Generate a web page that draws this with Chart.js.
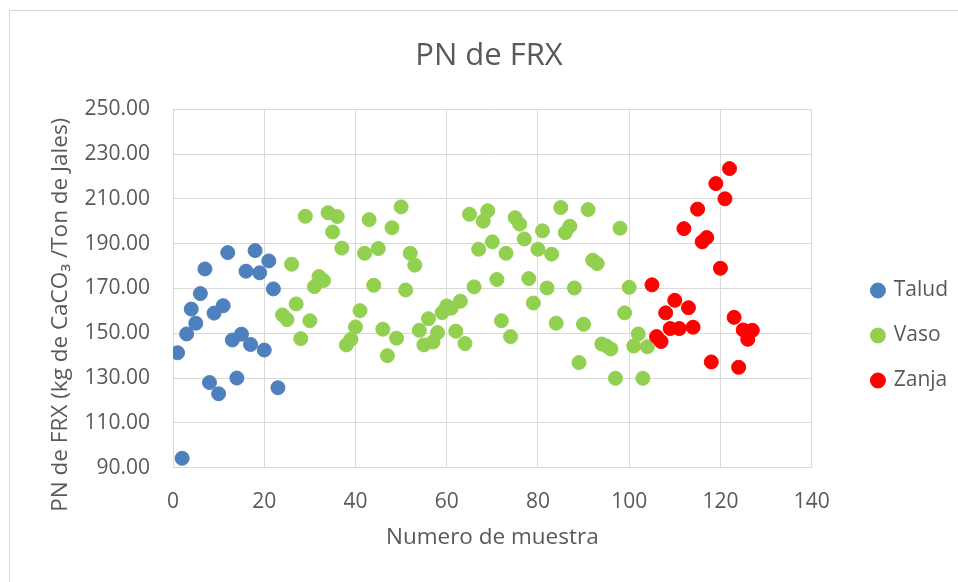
<!DOCTYPE html>
<html>
<head>
<meta charset="utf-8">
<script src="https://cdn.jsdelivr.net/npm/chart.js@4/dist/chart.umd.min.js"></script>
<style>
  html, body { margin: 0; padding: 0; background: #ffffff; }
  #wrap { width: 958px; height: 582px; position: relative; }
</style>
</head>
<body>
<div id="wrap"><canvas id="c" width="958" height="582"></canvas></div>
<script>
const chartTitle = "PN de FRX";
const xAxisTitle = "Numero de muestra";
const yAxisTitle = "PN de FRX (kg de CaCO\u2083 /Ton de Jales)";
const seriesNames = ["Talud", "Vaso", "Zanja"];

const taludX = [1,2,3,4,5,6,7,8,9,10,11,12,13,14,15,16,17,18,19,20,21,22,23];
const taludY = [141.3,94.2,149.7,160.8,154.5,167.7,178.7,128.0,159.0,123.0,162.3,186.0,147.0,130.0,149.6,177.7,145.0,186.9,177.0,142.5,182.3,169.8,125.7];

const vasoX = [24,25,26,27,28,29,30,31,32,33,34,35,36,37,38,39,40,41,42,43,44,45,46,47,48,49,50,51,52,53,54,55,56,57,58,59,60,61,62,63,64,65,66,67,68,69,70,71,72,73,74,75,76,77,78,79,80,81,82,83,84,85,86,87,88,89,90,91,92,93,94,95,96,97,98,99,100,101,102,103,104];
const vasoY = [158.2,156.1,180.8,163.1,147.6,202.2,155.6,170.8,175.3,173.5,203.8,195.2,202.1,188.0,144.8,147.3,152.8,160.1,185.7,200.7,171.4,187.8,151.8,140.0,197.1,147.8,206.4,169.3,185.7,180.4,151.3,144.8,156.5,146.1,150.3,159.2,162.2,161.2,150.9,164.3,145.4,203.1,170.7,187.5,200.0,204.7,190.8,174.0,155.6,185.7,148.5,201.6,198.7,192.1,174.4,163.5,187.5,195.7,170.2,185.3,154.5,206.1,194.9,197.8,170.2,136.9,154.0,205.2,182.6,181.1,145.2,144.3,143.0,129.9,196.9,159.1,170.5,144.3,149.7,129.9,144.0];

const zanjaX = [105,106,107,108,109,110,111,112,113,114,115,116,117,118,119,120,121,122,123,124,125,126,127];
const zanjaY = [171.6,148.5,146.3,159.1,152.1,164.7,152.1,196.7,161.4,152.7,205.4,190.8,192.7,137.2,216.8,179.0,210.0,223.5,157.1,134.8,151.5,147.3,151.3];

const colors = ["#4E80BE", "#92D050", "#FF0000"];

function pts(xs, ys) { return xs.map((x, i) => ({ x: x, y: ys[i] })); }

const FONT = "'Open Sans', 'DejaVu Sans', sans-serif";
const TXT = "#595959";
const GRID = "#D9D9D9";

const bgPlugin = {
  id: 'bg',
  beforeDraw(chart) {
    const ctx = chart.ctx;
    ctx.save();
    ctx.fillStyle = '#ffffff';
    ctx.fillRect(0, 0, chart.width, chart.height);
    ctx.strokeStyle = GRID;
    ctx.lineWidth = 1;
    ctx.strokeRect(9.5, 10.5, 2000, 2000);
    ctx.restore();
  }
};

const mk = (label, data, color, order) => ({
  label, data, order,
  backgroundColor: color, borderColor: color,
  pointRadius: 7, pointHoverRadius: 7, pointBorderWidth: 1,
  showLine: false
});

new Chart(document.getElementById('c'), {
  type: 'scatter',
  data: {
    datasets: [
      mk(seriesNames[0], pts(taludX, taludY), colors[0], 3),
      mk(seriesNames[1], pts(vasoX, vasoY), colors[1], 2),
      mk(seriesNames[2], pts(zanjaX, zanjaY), colors[2], 1)
    ]
  },
  options: {
    responsive: false,
    animation: false,
    layout: { padding: { left: 20, right: 0, top: 0, bottom: 0 } },
    plugins: {
      tooltip: { enabled: false },
      title: {
        display: true, text: chartTitle, color: TXT,
        font: { family: FONT, size: 31, weight: 'normal', lineHeight: 1.2 },
        padding: { top: 38, bottom: 34 }
      },
      legend: {
        position: 'right',
        align: 'center',
        title: { display: true, text: '', font: { size: 1, lineHeight: 1 }, padding: { top: 88, bottom: 0 } },
        labels: {
          usePointStyle: true, pointStyle: 'circle',
          boxWidth: 10.6, boxHeight: 10.6,
          padding: 24, color: TXT,
          font: { family: FONT, size: 21 },
          sort: (a, b) => a.datasetIndex - b.datasetIndex
        }
      }
    },
    scales: {
      x: {
        type: 'linear', min: 0, max: 140,
        ticks: { stepSize: 20, color: TXT, font: { family: FONT, size: 21 }, padding: 22, maxRotation: 0 },
        grid: { color: GRID, lineWidth: 1, drawTicks: false },
        border: { color: GRID, width: 1 },
        title: { display: true, text: xAxisTitle, color: TXT, font: { family: FONT, size: 22.5, lineHeight: 1.2 }, padding: { top: 0, bottom: 30.5 } },
        afterFit: (s) => { s.height = 582 - 467.7; }
      },
      y: {
        type: 'linear', min: 90, max: 250,
        ticks: { stepSize: 20, color: TXT, font: { family: FONT, size: 21 }, padding: 23, callback: (v) => Number(v).toFixed(2) },
        grid: { color: GRID, lineWidth: 1, drawTicks: false },
        border: { color: GRID, width: 1 },
        title: { display: true, text: yAxisTitle + "         ", color: TXT, font: { family: FONT, size: 22.5, lineHeight: 1.2 }, padding: { top: 27.5, bottom: 0 } },
        afterFit: (s) => { s.width = 173 - 20; }
      },
      gap: {
        type: 'linear', position: 'right', display: true,
        ticks: { display: false }, grid: { display: false }, border: { display: false },
        afterFit: (s) => { s.width = 37; }
      }
    }
  },
  plugins: [bgPlugin]
});
</script>
</body>
</html>
